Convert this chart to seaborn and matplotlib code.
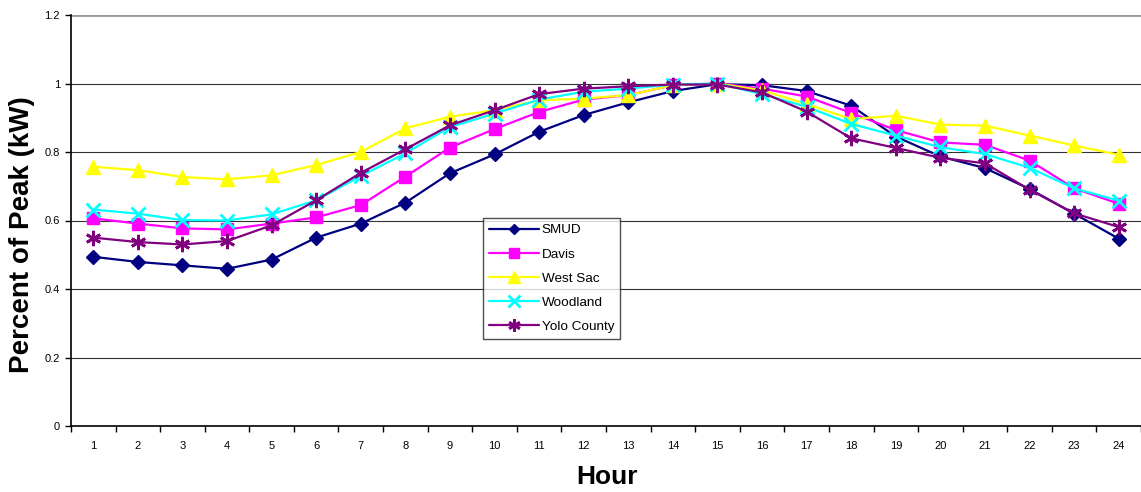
import matplotlib
matplotlib.use("Agg")
import matplotlib.pyplot as plt
import seaborn as sns
import pandas as pd
import numpy as np

hours = list(range(1, 25))
smud = [0.494, 0.479, 0.469, 0.459, 0.486, 0.550, 0.591, 0.652, 0.738, 0.793, 0.859, 0.908,
        0.945, 0.978, 0.998, 0.995, 0.978, 0.935, 0.845, 0.787, 0.753, 0.692, 0.620, 0.547]
davis = [0.606, 0.591, 0.577, 0.574, 0.591, 0.609, 0.645, 0.728, 0.813, 0.867, 0.917, 0.953,
         0.966, 0.995, 1.000, 0.985, 0.962, 0.914, 0.864, 0.828, 0.821, 0.775, 0.694, 0.649]
west_sac = [0.757, 0.747, 0.727, 0.720, 0.732, 0.762, 0.800, 0.869, 0.903, 0.922, 0.951, 0.956,
            0.966, 0.995, 1.000, 0.980, 0.940, 0.896, 0.906, 0.880, 0.877, 0.848, 0.819, 0.792]
woodland = [0.632, 0.620, 0.601, 0.600, 0.618, 0.659, 0.730, 0.796, 0.873, 0.912, 0.953, 0.976,
            0.985, 0.997, 1.000, 0.969, 0.932, 0.882, 0.848, 0.814, 0.794, 0.754, 0.694, 0.658]
yolo = [0.550, 0.537, 0.530, 0.540, 0.586, 0.659, 0.739, 0.808, 0.878, 0.922, 0.969, 0.985,
        0.992, 0.997, 0.997, 0.974, 0.918, 0.840, 0.812, 0.783, 0.767, 0.690, 0.621, 0.581]

series_names = ["SMUD", "Davis", "West Sac", "Woodland", "Yolo County"]
series_values = [smud, davis, west_sac, woodland, yolo]
colors = ["#000080", "#FF00FF", "#FFFF00", "#00FFFF", "#800080"]
markers = ["D", "s", "^", "x", (6, 2, 0)]
msizes = [7, 9, 10, 10, 11]
y_ticks = [0, 0.2, 0.4, 0.6, 0.8, 1, 1.2]
y_tick_labels = ["0", "0.2", "0.4", "0.6", "0.8", "1", "1.2"]

df = pd.DataFrame({
    "Hour": np.tile(hours, len(series_names)),
    "Value": np.concatenate(series_values),
    "Series": np.repeat(series_names, len(hours)),
})

sns.set_style("white")
plt.rcParams["font.family"] = ["Liberation Sans", "DejaVu Sans"]
plt.rcParams["text.color"] = "black"
plt.rcParams["axes.labelcolor"] = "black"
plt.rcParams["xtick.color"] = "black"
plt.rcParams["ytick.color"] = "black"

fig = plt.figure(figsize=(11.41, 4.92), dpi=100)
ax = fig.add_axes([71 / 1141, 1 - 426 / 492, 1 - 71 / 1141, (426 - 15) / 492])

for name, col, mk, ms in zip(series_names, colors, markers, msizes):
    sub = df[df["Series"] == name]
    sns.lineplot(data=sub, x="Hour", y="Value", ax=ax, color=col, marker=mk,
                 markersize=ms, linewidth=1.6, markeredgecolor=col,
                 markeredgewidth=2.0 if mk == "x" or isinstance(mk, tuple) else 1.0,
                 label=name, zorder=3)

ax.set_xlim(0.5, 24.5)
ax.set_ylim(0, 1.2)
ax.set_yticks(y_ticks)
ax.set_yticklabels(y_tick_labels, fontsize=8)
ax.set_xticks(hours)
ax.set_xticklabels([str(h) for h in hours], fontsize=8)
ax.set_xticks(np.arange(0.5, 25, 1), minor=True)
ax.tick_params(axis="x", which="major", length=0, pad=11)
ax.tick_params(axis="x", which="minor", length=4, width=1, direction="out", color="black", bottom=True)
ax.tick_params(axis="y", length=4, width=1, direction="out", color="black", left=True, pad=4)

for yv in y_ticks[1:-1]:
    ax.axhline(yv, color="#333333", linewidth=0.8, zorder=1)
ax.axhline(1.2, color="#999999", linewidth=2, zorder=1)

for s in ["top", "right"]:
    ax.spines[s].set_visible(False)
ax.spines["left"].set_color("black")
ax.spines["left"].set_linewidth(1.2)
ax.spines["bottom"].set_color("black")
ax.spines["bottom"].set_linewidth(1.2)

ax.set_xlabel("Hour", fontsize=19, fontweight="bold", va="center")
ax.xaxis.set_label_coords((607 - 71) / 1070, -(477 - 426) / 411)
ax.set_ylabel("Percent of Peak (kW)", fontsize=20, fontweight="bold", va="center")
ax.yaxis.set_label_coords(-(71 - 22) / 1070, (426 - 235) / 411)

leg = ax.legend(loc="upper left", bbox_to_anchor=((483 - 71) / 1070, (426 - 218) / 411),
                fontsize=9.7, frameon=True, fancybox=False, handlelength=3.7,
                borderpad=0.45, labelspacing=0.86, handletextpad=0.2, borderaxespad=0)
leg.get_frame().set_edgecolor("#222222")
leg.get_frame().set_linewidth(1.0)
for h, ms in zip(leg.legend_handles, msizes):
    h.set_markersize(ms * 0.8)

fig.savefig("out.png", dpi=100)
